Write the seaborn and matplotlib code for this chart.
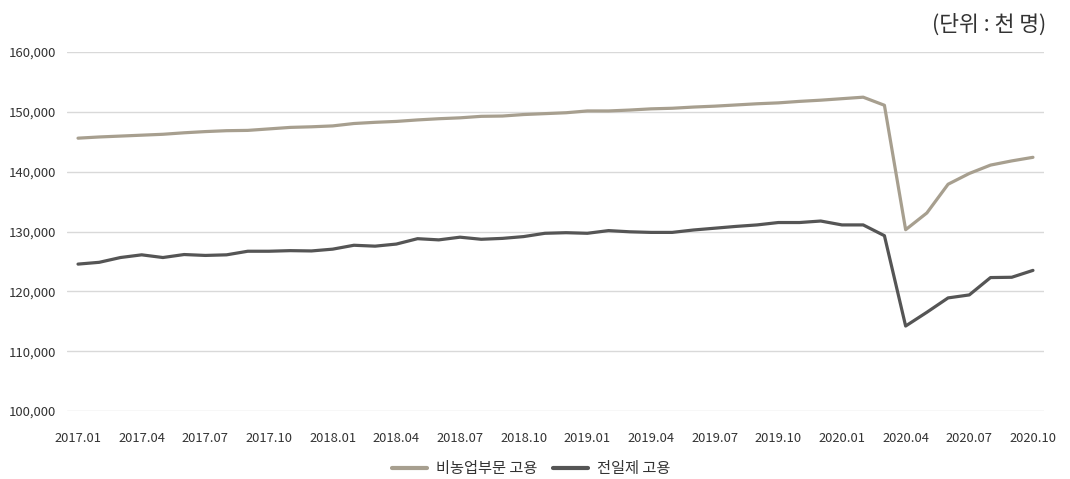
import numpy as np
import pandas as pd
import matplotlib
matplotlib.use("Agg")
import matplotlib.pyplot as plt
import seaborn as sns

months = [f"{y}.{m:02d}" for y in range(2017, 2021) for m in range(1, 13)][:46]

nonfarm = [145600, 145800, 145950, 146100, 146250, 146500, 146700, 146850, 146900, 147150,
           147400, 147500, 147650, 148050, 148250, 148400, 148650, 148850, 149000, 149250,
           149300, 149550, 149700, 149850, 150150, 150150, 150300, 150500, 150600, 150800,
           150950, 151150, 151350, 151500, 151750, 151950, 152200, 152450, 151100, 130300,
           133100, 137900, 139700, 141100, 141800, 142400]

fulltime = [124550, 124850, 125650, 126100, 125650, 126150, 126000, 126100, 126700, 126700,
            126800, 126750, 127050, 127700, 127550, 127900, 128800, 128600, 129050, 128700,
            128850, 129150, 129700, 129800, 129700, 130150, 129950, 129850, 129850, 130250,
            130550, 130850, 131100, 131500, 131500, 131750, 131100, 131100, 129300, 114200,
            116500, 118900, 119400, 122300, 122350, 123500]

series_names = ["비농업부문 고용", "전일제 고용"]
colors = ["#A79F8F", "#555555"]
y_ticks = [100000, 110000, 120000, 130000, 140000, 150000, 160000]

df = pd.DataFrame({
    "idx": list(range(len(months))) * 2,
    "value": nonfarm + fulltime,
    "series": [series_names[0]] * len(months) + [series_names[1]] * len(months),
})

sns.set_style("white")
plt.rcParams["font.family"] = ["Noto Sans CJK KR", "DejaVu Sans"]

fig = plt.figure(figsize=(10.70, 4.79), dpi=100)
ax = fig.add_axes([0.063, 0.142, 0.9123, 0.7494])

sns.lineplot(data=df, x="idx", y="value", hue="series", palette=colors,
             linewidth=2.3, ax=ax, legend=True)

ax.set_xlim(-0.5, len(months) - 0.5)
ax.set_ylim(100000, 160000)
ax.set_yticks(y_ticks)
ax.set_yticklabels([f"{v:,}" for v in y_ticks], fontsize=9.5, color="#333333")
xt = list(range(0, len(months), 3))
ax.set_xticks(xt)
ax.set_xticklabels([months[i] for i in xt], fontsize=9.3, color="#333333")
ax.tick_params(axis="y", length=0, pad=8)
ax.tick_params(axis="x", length=0, pad=15)
ax.set_xlabel("")
ax.set_ylabel("")
ax.grid(axis="y", color="#D9D9D9", linewidth=1)
ax.set_axisbelow(True)
for s in ax.spines.values():
    s.set_visible(False)

handles, labels = ax.get_legend_handles_labels()
ax.get_legend().remove()
leg = fig.legend(handles, labels, loc="center", bbox_to_anchor=(531.5 / 1070, 1 - 469 / 479),
                 ncol=2, frameon=False, fontsize=11, handlelength=2.3,
                 columnspacing=1.0, handletextpad=0.6)
for line in leg.get_lines():
    line.set_linewidth(3)
for t in leg.get_texts():
    t.set_color("#333333")

fig.text(0.978, 0.948, "(단위 : 천 명)", ha="right", va="center", fontsize=15.5, color="#333333")

fig.savefig("out.png", dpi=100)
